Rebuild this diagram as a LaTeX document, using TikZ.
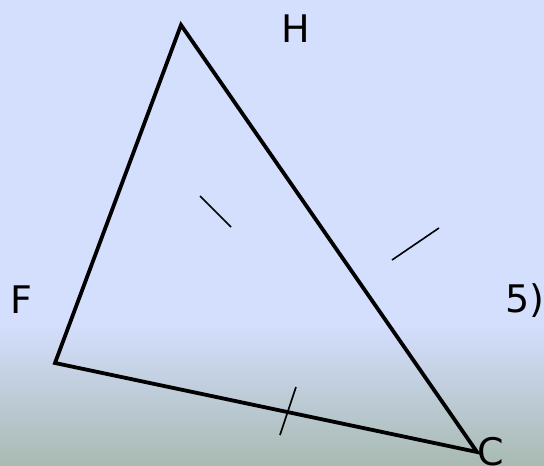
\documentclass[tikz,border=0pt]{standalone}
\usepackage{fontspec}
\setmainfont{DejaVu Sans}
\usepackage{xcolor}
\usetikzlibrary{calc}
\definecolor{skytop}{RGB}{212,222,253}
\definecolor{skybot}{RGB}{168,186,178}
\tikzset{
  side/.style={line width=3.8pt, line join=miter},
  tick/.style={line width=1.6pt},
  vlabel/.style={anchor=base, inner sep=0pt, font=\fontsize{38}{40}\selectfont}
}
\begin{document}
\begin{tikzpicture}[x=1pt,y=-1pt]
  \useasboundingbox (0,0) rectangle (544,466);
  % background
  \fill[skytop] (0,0) rectangle (544,326);
  \shade[top color=skytop, bottom color=skybot] (0,325) rectangle (544,466);
  % triangle
  \coordinate (H) at (181,25);
  \coordinate (F) at (55,363);
  \coordinate (C) at (477,452);
  \draw[side] (H) -- (F) -- (C) -- cycle;
  % tick marks
  \coordinate (t1a) at (200,196);
  \coordinate (t1b) at (231,227);
  \coordinate (t2a) at (392,260);
  \coordinate (t2b) at (439,228);
  \coordinate (t3a) at (296,387);
  \coordinate (t3b) at (280,435);
  \draw[tick] (t1a) -- (t1b);
  \draw[tick] (t2a) -- (t2b);
  \draw[tick] (t3a) -- (t3b);
  % labels
  \node[vlabel] (lH) at (296,42) {H};
  \node[vlabel] (lF) at (21,313) {F};
  \node[vlabel] (lC) at (491,465) {C};
  \node[vlabel] (l5) at (525,312) {5)};
\end{tikzpicture}
\end{document}
